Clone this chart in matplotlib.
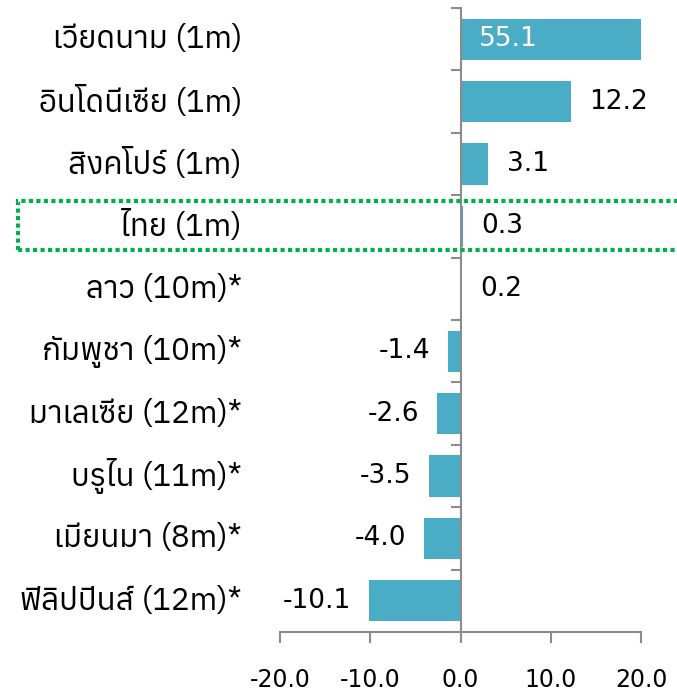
import matplotlib
matplotlib.use('Agg')
import matplotlib.pyplot as plt
import matplotlib.transforms as mtrans
from matplotlib import font_manager
from matplotlib.patches import Rectangle

# data
countries = ['เวียดนาม (1m)', 'อินโดนีเซีย (1m)', 'สิงคโปร์ (1m)', 'ไทย (1m)',
             'ลาว (10m)*', 'กัมพูชา (10m)*', 'มาเลเซีย (12m)*', 'บรูไน (11m)*',
             'เมียนมา (8m)*', 'ฟิลิปปินส์ (12m)*']
values = [55.1, 12.2, 3.1, 0.3, 0.2, -1.4, -2.6, -3.5, -4.0, -10.1]
xticks = [-20.0, -10.0, 0.0, 10.0, 20.0]

# look for a font that has thai glyphs
thai = []
try:
    from fontTools.ttLib import TTFont
    for f in font_manager.fontManager.ttflist:
        try:
            tt = TTFont(f.fname, fontNumber=0, lazy=True)
            if 0x0E01 in tt.getBestCmap():
                thai.append(f.name)
        except Exception:
            pass
except Exception:
    pass
fam = sorted(set(thai)) + ['DejaVu Sans']
plt.rcParams['font.family'] = ['DejaVu Sans']

bar_col = '#4bacc6'
axis_col = '#8c8c8c'

fig = plt.figure(figsize=(6.77, 6.96), dpi=100)
ax = fig.add_axes([280/677, 1-632/696, 361/677, 624/696])

y = list(range(len(values)))
ax.barh(y, values, height=0.66, color=bar_col)
ax.set_xlim(-20, 20)
ax.set_ylim(len(values)-0.5, -0.5)

for s in ['top', 'right']:
    ax.spines[s].set_visible(False)
ax.spines['left'].set_position(('data', 0))
for s in ['left', 'bottom']:
    ax.spines[s].set_color(axis_col)
    ax.spines[s].set_linewidth(1.5)

ax.set_yticks([i-0.5 for i in range(len(values)+1)])
ax.set_yticklabels([])
ax.tick_params(axis='y', direction='out', length=7, width=1.5, color=axis_col)
ax.set_xticks(xticks)
ax.set_xticklabels(['%.1f' % t for t in xticks], fontsize=17)
ax.tick_params(axis='x', direction='out', length=8, width=1.5, color=axis_col, pad=18)

trans = mtrans.blended_transform_factory(ax.transAxes, ax.transData)
for i, name in enumerate(countries):
    ax.text(-0.105, i, name, transform=trans, ha='right', va='center',
            fontsize=22.5, family=fam)

for i, v in enumerate(values):
    if v > 20:
        ax.text(2.0, i, '%.1f' % v, ha='left', va='center', fontsize=19, color='white')
    elif v >= 0:
        ax.text(v + 2.0, i, '%.1f' % v, ha='left', va='center', fontsize=19)
    else:
        ax.text(v - 2.0, i, '%.1f' % v, ha='right', va='center', fontsize=19)

# green dotted box around thailand
box = Rectangle((18/677, 1-250/696), 670/677, 49/696, transform=fig.transFigure,
                fill=False, edgecolor='#00b050', linewidth=3, linestyle=(0, (1, 0.8)),
                clip_on=False)
fig.patches.append(box)

fig.savefig('out.png', dpi=100)
